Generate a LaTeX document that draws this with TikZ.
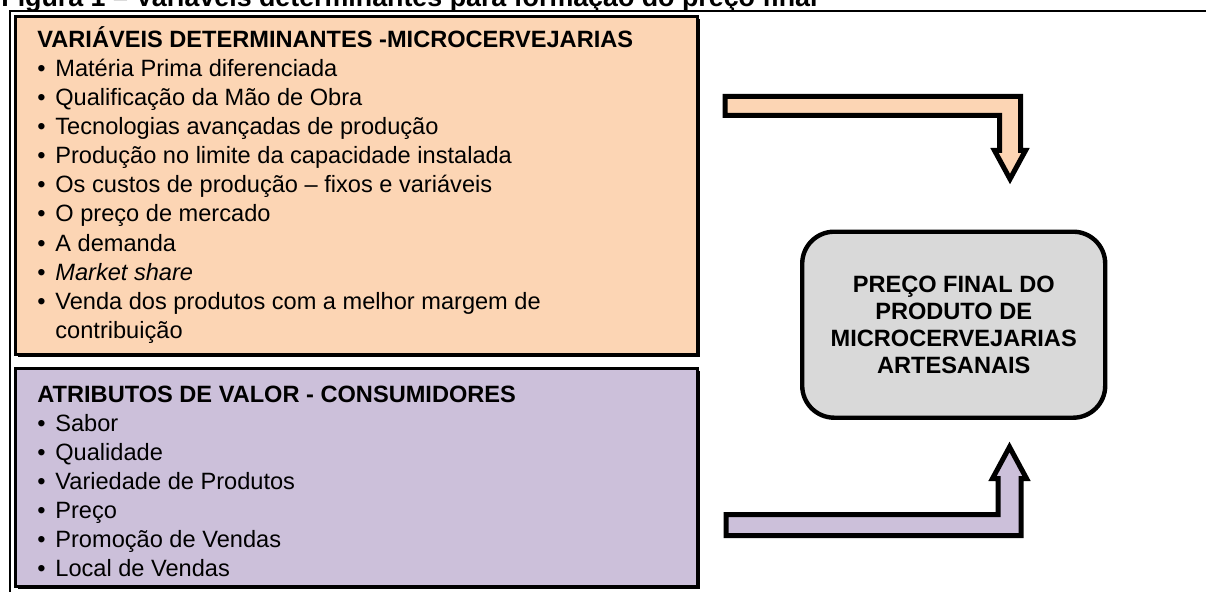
\documentclass[tikz,border=0pt]{standalone}
\usepackage{fontspec}
\setmainfont{Liberation Sans}
\usetikzlibrary{positioning, shadows}
\definecolor{pessego}{RGB}{252,213,180}
\definecolor{lilas}{RGB}{204,192,218}
\definecolor{cinza}{RGB}{217,217,217}
\tikzset{
  caixa/.style={draw=black, line width=2.2bp, anchor=north west, inner sep=0pt},
  sombra/.style={line width=1.7bp, drop shadow={shadow xshift=1.1bp, shadow yshift=-1.1bp,
    fill=black, opacity=1}},
  seta/.style={draw=black, line width=2.5bp, line join=miter},
  lista/.style={anchor=base west, inner sep=0pt, align=left,
    font=\fontsize{11.8bp}{14.5bp}\selectfont},
}
\newcommand{\pto}{\makebox[9bp][l]{\textbullet}}

\begin{document}
\begin{tikzpicture}[x=0.5bp, y=-0.5bp]
\useasboundingbox (0,0) rectangle (1206,592);
\clip (0,0) rectangle (1206,592);
% legenda (cortada no topo)
\node[anchor=base west, inner sep=0pt, font=\bfseries\fontsize{13.4bp}{16bp}\selectfont]
  (legenda) at (1,7) {Figura 1 – Variáveis determinantes para formação do preço final};
\draw[line width=1bp] (9.5,592) |- (1206,11.5);

% caixas da esquerda
\node[caixa, sombra, fill=pessego, minimum width=341bp, minimum height=169bp] (variaveis) at (14,15) {};
\node[caixa, sombra, fill=lilas, minimum width=341bp, minimum height=109bp] (atributos) at (14,367) {};

% (base = ultima linha)
\node[lista] (txtvar) at (37,338) {%
  \textbf{VARIÁVEIS DETERMINANTES -MICROCERVEJARIAS}\\
  \pto Matéria Prima diferenciada\\
  \pto Qualificação da Mão de Obra\\
  \pto Tecnologias avançadas de produção\\
  \pto Produção no limite da capacidade instalada\\
  \pto Os custos de produção – fixos e variáveis\\
  \pto O preço de mercado\\
  \pto A demanda\\
  \pto \textit{Market share}\\
  \pto Venda dos produtos com a melhor margem de\\
  \hspace*{9bp}contribuição};

\node[lista] (txtatr) at (37,576) {%
  \textbf{ATRIBUTOS DE VALOR - CONSUMIDORES}\\
  \pto Sabor\\
  \pto Qualidade\\
  \pto Variedade de Produtos\\
  \pto Preço\\
  \pto Promoção de Vendas\\
  \pto Local de Vendas};

% resultado
\node[caixa, fill=cinza, rounded corners=16bp, minimum width=151.5bp, minimum height=93bp] (preco) at (800,229.5) {};
\node[align=center, inner sep=0pt, font=\bfseries\fontsize{11.8bp}{13.5bp}\selectfont]
  (txtpreco) at (preco.center) {PREÇO FINAL DO\\PRODUTO DE\\MICROCERVEJARIAS\\ARTESANAIS};

% setas
\draw[seta, fill=pessego] (725,96.5) -- (1020.5,96.5) -- (1020.5,150.5) -- (1025.5,150.5)
  -- (1010,179) -- (994.5,150.5) -- (999.5,150.5) -- (999.5,115.5) -- (725,115.5) -- cycle;
\draw[seta, fill=lilas] (726,535.5) -- (1021,535.5) -- (1021,478.5) -- (1026.5,478.5)
  -- (1009.5,447) -- (992.5,478.5) -- (998,478.5) -- (998,514.5) -- (726,514.5) -- cycle;
\end{tikzpicture}
\end{document}
